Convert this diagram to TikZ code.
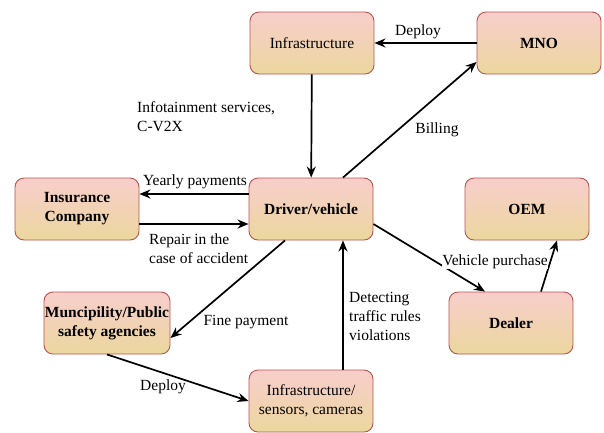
\documentclass[tikz,border=0pt]{standalone}
\usepackage{fontspec}
\setmainfont{Liberation Serif}
\usetikzlibrary{arrows.meta}
\definecolor{boxtop}{HTML}{F8CECC}
\definecolor{boxbot}{HTML}{EBD79E}
\definecolor{boxline}{HTML}{B85450}
\begin{document}
\begin{tikzpicture}[x=1pt,y=-1pt,
    main/.style = {draw=boxline, line width=0.9pt, rounded corners=9pt, top color=boxtop, bottom color=boxbot,
        minimum width=124pt, minimum height=62pt, align=center, inner sep=1pt,
        font=\fontsize{15.5}{19}\selectfont},
    lab/.style = {align=left, inner sep=0pt, font=\fontsize{15.5}{19}\selectfont},
    link/.style = {-{Stealth[length=11pt,width=9pt]}, line width=1.7pt}]
    \useasboundingbox (0,0) rectangle (604,432);
    \node[main] (infra) at (312,43) {Infrastructure};
    \node[main] (mno) at (539,43) {\bfseries MNO};
    \node[main] (ins) at (77,209) {\bfseries Insurance\\\bfseries Company};
    \node[main] (drv) at (311,209) {\bfseries Driver/vehicle};
    \node[main] (oem) at (527,209) {\bfseries OEM};
    \node[main] (dealer) at (511,323) {\bfseries Dealer};
    \node[main] (muni) at (107,323) {\bfseries Muncipility/Public\\\bfseries safety agencies};
    \node[main] (sens) at (311,401) {Infrastructure/\\sensors, cameras};

    \draw[link] (mno) -- (infra);
    \draw[link] (infra) -- (drv);
    \draw[link] ([xshift=32pt]drv.north) -- ([yshift=-19pt]mno.west);
    \draw[link] ([yshift=15pt]drv.west) -- ([yshift=15pt]ins.east);
    \draw[link] ([yshift=-15pt]ins.east) -- ([yshift=-15pt]drv.west);
    \draw[link] ([xshift=-26pt]drv.south) -- ([yshift=-15pt]muni.east);
    \draw[link] (muni.south) -- (sens.west);
    \draw[link] ([xshift=32pt]sens.north) -- ([xshift=32pt]drv.south);
    \draw[link] ([yshift=-15pt]drv.east) -- ([xshift=-26pt]dealer.north);
    \draw[link] ([xshift=30pt]dealer.north) -- ([xshift=30pt]oem.south);

    \node[lab, fill=white] (deploytop) at (418,32) {Deploy};
    \node[lab, anchor=west] (infolab) at (137,117) {Infotainment services,\\C-V2X};
    \node[lab] (billing) at (437,130) {Billing};
    \node[lab, fill=white] (yearly) at (195,182) {Yearly payments};
    \node[lab, anchor=west] (repair) at (149,249) {Repair in the\\case of accident};
    \node[lab] (fine) at (246,322) {Fine payment};
    \node[lab] (deploybot) at (163,387) {Deploy};
    \node[lab, anchor=west] (detect) at (349,316) {Detecting\\traffic rules\\violations};
    \node[lab, fill=white] (purchase) at (495,262) {Vehicle purchase};
\end{tikzpicture}
\end{document}
